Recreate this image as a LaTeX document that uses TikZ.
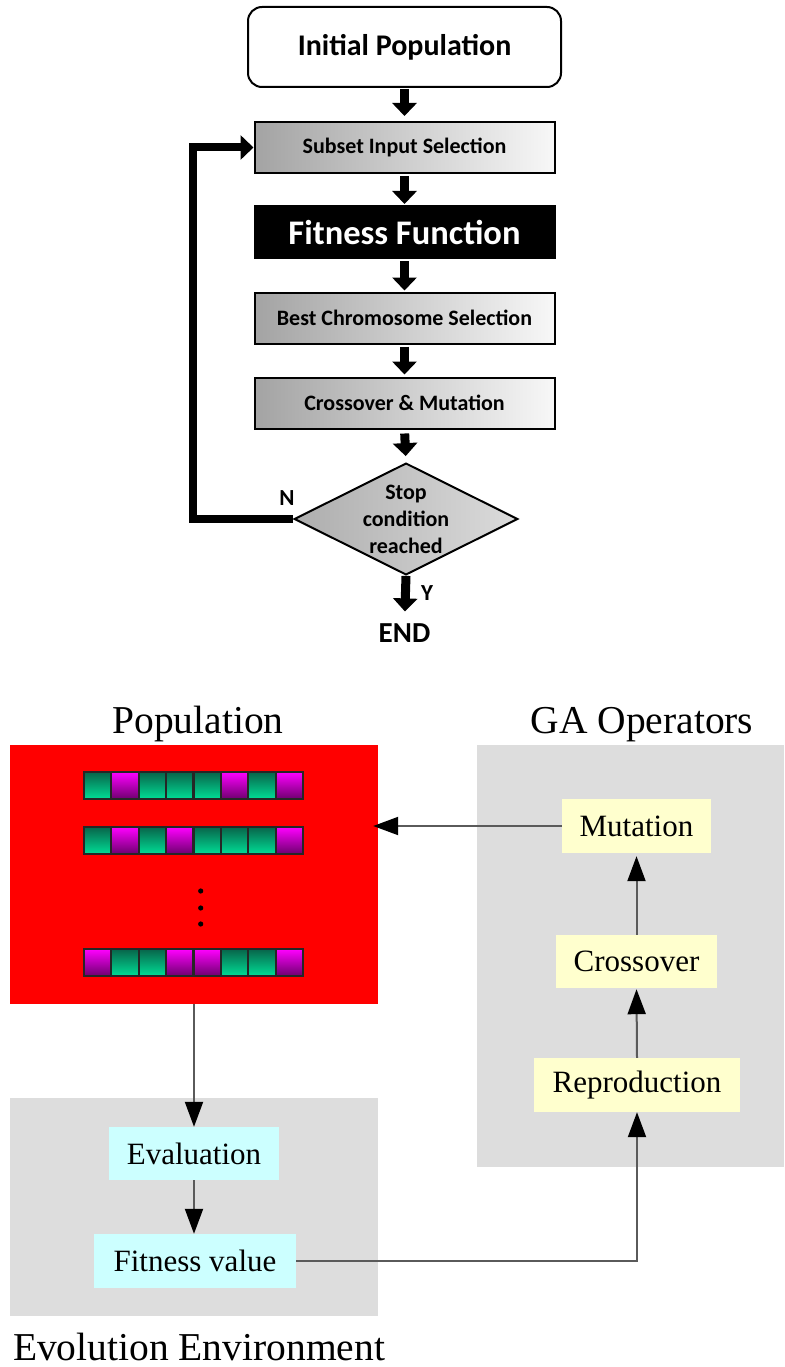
\documentclass[tikz,border=0pt]{standalone}
\usepackage{fontspec}
\setmainfont{Liberation Serif}
\newfontfamily\calfont{Carlito}
\usetikzlibrary{arrows.meta,shapes.geometric}
\definecolor{gagray}{RGB}{221,221,221}
\definecolor{yelbox}{RGB}{255,255,206}
\definecolor{cyanbox}{RGB}{204,255,255}
\definecolor{tealtop}{RGB}{8,100,74}
\definecolor{tealbot}{RGB}{0,222,150}
\definecolor{magtop}{RGB}{255,0,255}
\definecolor{magbot}{RGB}{110,0,110}
\definecolor{connline}{RGB}{90,90,90}
\begin{document}
\begin{tikzpicture}[x=1pt,y=-1pt,
  initbox/.style={draw=black, line width=2pt, rounded corners=14pt, fill=white,
    minimum width=313pt, minimum height=80pt, inner sep=0pt,
    font=\calfont\bfseries\fontsize{30}{34}\selectfont},
  flowbox/.style={draw=black, line width=2pt, left color=black!36, right color=black!3,
    minimum width=300pt, minimum height=51pt, inner sep=0pt,
    font=\calfont\bfseries\fontsize{22}{26}\selectfont},
  fitbox/.style={draw=black, line width=2pt, fill=black, text=white,
    minimum width=300pt, minimum height=52pt, inner sep=0pt,
    font=\calfont\bfseries\fontsize{34.5}{38}\selectfont},
  decision/.style={diamond, draw=black, line width=2pt, left color=black!32, right color=black!14,
    minimum width=218pt, minimum height=109pt, inner sep=0pt, aspect=2,
    align=center, font=\calfont\bfseries\fontsize{22}{27}\selectfont},
  lbl/.style={inner sep=0pt, font=\calfont\bfseries\fontsize{23}{26}\selectfont},
  blockarrow/.style={line width=9pt, -{Triangle[length=13pt,width=24pt]}},
  looparrow/.style={line width=8pt, line join=miter, -{Triangle[length=13pt,width=24pt]}},
  sectitle/.style={inner sep=0pt, anchor=base, font=\fontsize{39.5}{44}\selectfont},
  graybox/.style={fill=gagray, inner sep=0pt},
  opbox/.style={fill=yelbox, inner sep=0pt, font=\fontsize{31}{34}\selectfont},
  evbox/.style={fill=cyanbox, inner sep=0pt, font=\fontsize{31}{34}\selectfont},
  conn/.style={draw=connline, line width=2pt, -{Triangle[length=25pt,width=18pt,fill=black,color=black]}},
  gcell/.style={top color=tealtop, bottom color=tealbot},
  mcell/.style={top color=magtop, bottom color=magbot}
]
\useasboundingbox (0,0) rectangle (784,1367);

% ---------- top flowchart ----------
\node[initbox] (init) at (404.5,47) {Initial Population};
\node[flowbox] (subset) at (404.5,147.5) {Subset Input Selection};
\node[fitbox] (fit) at (404.5,232) {Fitness Function};
\node[flowbox] (best) at (404.5,318) {Best Chromosome Selection};
\node[flowbox] (cross) at (404.5,403) {Crossover \& Mutation};
\node[decision] (stop) at (406,519) {Stop\\condition\\reached};
\node[lbl, font=\calfont\bfseries\fontsize{29}{32}\selectfont] (end) at (404.5,633) {END};
\node[lbl] (nlbl) at (287,498) {N};
\node[lbl] (ylbl) at (427,593) {Y};

\draw[blockarrow, shorten <=1pt, shorten >=5pt] (init) -- (subset);
\draw[blockarrow, shorten <=2pt, shorten >=1pt] (subset) -- (fit);
\draw[blockarrow, shorten <=2pt, shorten >=1pt] (fit) -- (best);
\draw[blockarrow, shorten <=2pt, shorten >=2pt] (best) -- (cross);
\draw[blockarrow, shorten <=4pt, shorten >=6pt] (cross.south) -- (stop.north);
\draw[blockarrow, shorten >=12pt] (stop.south) -- (end.north);
\coordinate (lc) at (193,519);
\draw[looparrow] (stop.west) -- (lc) |- (subset.west);

% ---------- bottom diagram ----------
\node[sectitle] (poptitle) at (198,733) {Population};
\node[sectitle] (gatitle) at (642,733) {GA Operators};
\node[sectitle] (evtitle) at (199,1360) {Evolution Environment};

\node[fill=red, inner sep=0pt, minimum width=368pt, minimum height=259pt] (pop) at (194,874.5) {};
\node[graybox, minimum width=307pt, minimum height=422pt] (gabox) at (630.5,956) {};
\node[graybox, minimum width=368pt, minimum height=218pt] (evbox) at (194,1207) {};

% chromosomes
\foreach \row/\ytop/\cells in {1/772/{g,m,g,g,g,m,g,m}, 2/827/{g,m,g,m,g,g,g,m}, 3/949/{m,g,g,m,m,g,g,m}}{
  \foreach \c [count=\i from 0] in \cells {
    \pgfmathsetmacro{\xl}{84+27.375*\i}
    \pgfmathsetmacro{\xr}{84+27.375*(\i+1)}
    \shade[\c cell] (\xl,\ytop) rectangle (\xr,\ytop+27);
    \draw[black!85, line width=2.2pt] (\xl,\ytop) rectangle (\xr,\ytop+27);
  }
}
\foreach \yy in {891,908,924} \fill[black] (200.7,\yy) circle (2.6pt);

\node[opbox, minimum width=149pt, minimum height=54pt] (mut) at (636.5,826) {Mutation};
\node[opbox, minimum width=161pt, minimum height=53pt] (crs) at (636.5,961.5) {Crossover};
\node[opbox, minimum width=206pt, minimum height=54pt] (rep) at (637,1085) {Reproduction};
\node[evbox, minimum width=170pt, minimum height=53pt] (eval) at (194,1153.5) {Evaluation};
\node[evbox, minimum width=202pt, minimum height=54pt] (fitv) at (195,1261) {Fitness value};

\draw[conn, shorten >=-5pt] (mut.west) -- (mut.west -| pop.east);
\draw[conn] (pop.south) -- (eval.north);
\draw[conn] (eval.south) -- (eval.south |- fitv.north);
\draw[conn] (fitv.east) -| (rep.south);
\draw[conn, shorten >=1pt] (rep.north) -- (crs.south);
\draw[conn, shorten >=3pt] (crs.north) -- (mut.south);
\end{tikzpicture}
\end{document}
